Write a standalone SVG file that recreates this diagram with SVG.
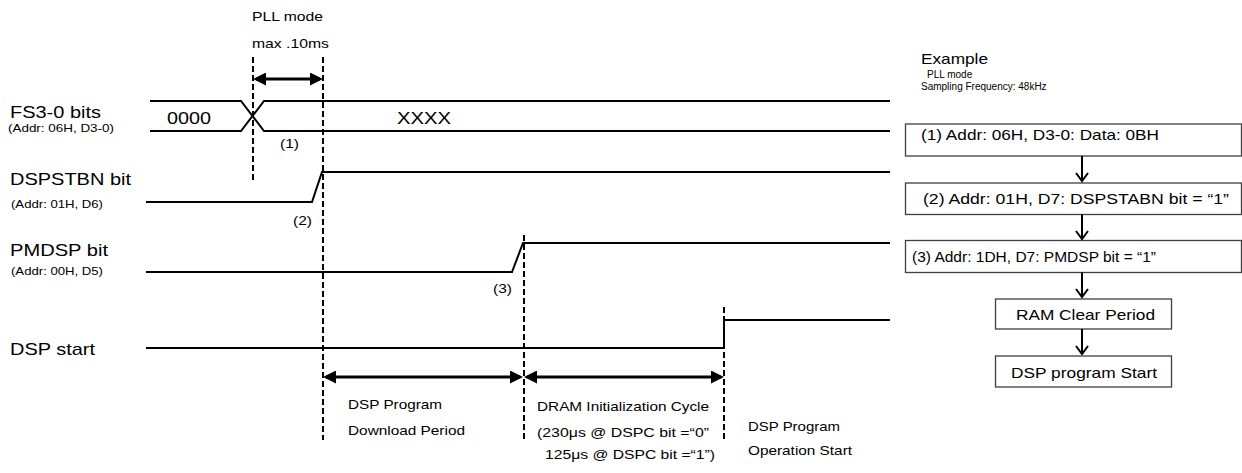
<svg xmlns="http://www.w3.org/2000/svg" width="1242" height="473" viewBox="0 0 1242 473">
<style>
text{font-family:"Liberation Sans",Arial,sans-serif;fill:#000}
.big{font-size:17px}
.small{font-size:11.5px}
.mid{font-size:13px}
.box{font-size:15px}
.tiny{font-size:10px}
.ex{font-size:15px}
.sig{fill:none;stroke:#000;stroke-width:2}
.dash{fill:none;stroke:#000;stroke-width:2;stroke-dasharray:6 3}
.dim{fill:none;stroke:#000;stroke-width:3;marker-start:url(#ah);marker-end:url(#ah)}
.nbox{fill:#fff;stroke:#404040;stroke-width:1.3}
.flow{fill:none;stroke:#000;stroke-width:2;marker-end:url(#chev)}
</style>
<defs>
<marker id="ah" viewBox="0 0 13 13" refX="10" refY="6.5" markerWidth="13" markerHeight="13" markerUnits="userSpaceOnUse" orient="auto-start-reverse">
<path d="M0,0 L13,6.5 L0,13 z" fill="#000"/>
</marker>
<marker id="chev" viewBox="0 0 12 14" refX="9" refY="7" markerWidth="12" markerHeight="14" markerUnits="userSpaceOnUse" orient="auto" overflow="visible">
<path d="M1,1 L9,7 L1,13" fill="none" stroke="#000" stroke-width="2"/>
</marker>
</defs>

<g id="labels">
<text class="big" x="10" y="118" textLength="91" lengthAdjust="spacingAndGlyphs">FS3-0 bits</text>
<text class="small" x="8" y="132" textLength="106" lengthAdjust="spacingAndGlyphs">(Addr: 06H, D3-0)</text>
<text class="big" x="10" y="185" textLength="121" lengthAdjust="spacingAndGlyphs">DSPSTBN bit</text>
<text class="small" x="11" y="208" textLength="92" lengthAdjust="spacingAndGlyphs">(Addr: 01H, D6)</text>
<text class="big" x="10" y="256" textLength="98" lengthAdjust="spacingAndGlyphs">PMDSP bit</text>
<text class="small" x="11" y="275" textLength="92" lengthAdjust="spacingAndGlyphs">(Addr: 00H, D5)</text>
<text class="big" x="10" y="355" textLength="85" lengthAdjust="spacingAndGlyphs">DSP start</text>
</g>

<g id="waveforms">
<path class="sig" d="M150,101 H241 L264,131 H890"/>
<path class="sig" d="M150,131 H241 L264,101 H890"/>
<text class="big" x="167" y="124" textLength="44" lengthAdjust="spacingAndGlyphs">0000</text>
<text class="big" x="397" y="124" textLength="54" lengthAdjust="spacingAndGlyphs">XXXX</text>
<path class="sig" d="M146,202 H312 L322,172 H890"/>
<path class="sig" d="M146,272 H512 L523,243 H890"/>
<path class="sig" d="M146,348 H724 V320 H890"/>
<text class="mid" x="280" y="148" textLength="19" lengthAdjust="spacingAndGlyphs">(1)</text>
<text class="mid" x="293" y="225" textLength="19" lengthAdjust="spacingAndGlyphs">(2)</text>
<text class="mid" x="493" y="293" textLength="19" lengthAdjust="spacingAndGlyphs">(3)</text>
</g>

<g id="timing-markers">
<line class="dash" x1="253" y1="57" x2="253" y2="182"/>
<line class="dash" x1="323" y1="57" x2="323" y2="440"/>
<line class="dash" x1="524" y1="235" x2="524" y2="440"/>
<line class="dash" x1="724" y1="307" x2="724" y2="440"/>
</g>

<g id="pll-period">
<text class="mid" x="252" y="21" textLength="71" lengthAdjust="spacingAndGlyphs">PLL mode</text>
<text class="mid" x="252" y="48" textLength="77" lengthAdjust="spacingAndGlyphs">max .10ms</text>
<line class="dim" x1="256" y1="79" x2="320" y2="79"/>
</g>

<g id="download-period">
<line class="dim" x1="326" y1="377" x2="520" y2="377"/>
<text class="mid" x="348" y="409" textLength="94" lengthAdjust="spacingAndGlyphs">DSP Program</text>
<text class="mid" x="348" y="435" textLength="117" lengthAdjust="spacingAndGlyphs">Download Period</text>
</g>

<g id="dram-init">
<line class="dim" x1="527" y1="377" x2="721" y2="377"/>
<text class="mid" x="537" y="411" textLength="172" lengthAdjust="spacingAndGlyphs">DRAM Initialization Cycle</text>
<text class="mid" x="537" y="437" textLength="172" lengthAdjust="spacingAndGlyphs">(230μs @ DSPC bit =“0”</text>
<text class="mid" x="545" y="459" textLength="170" lengthAdjust="spacingAndGlyphs">125μs @ DSPC bit =“1”)</text>
</g>

<g id="operation-start">
<text class="mid" x="748" y="431" textLength="92" lengthAdjust="spacingAndGlyphs">DSP Program</text>
<text class="mid" x="748" y="455" textLength="104" lengthAdjust="spacingAndGlyphs">Operation Start</text>
</g>

<g id="example-header">
<text class="ex" x="921" y="64" textLength="67" lengthAdjust="spacingAndGlyphs">Example</text>
<text class="tiny" x="927" y="78">PLL mode</text>
<text class="tiny" x="921" y="90">Sampling Frequency: 48kHz</text>
</g>

<g id="step1">
<rect class="nbox" x="905.5" y="124" width="336" height="32"/>
<text class="box" x="921" y="140" textLength="238" lengthAdjust="spacingAndGlyphs">(1) Addr: 06H, D3-0: Data: 0BH</text>
</g>
<g id="step2">
<rect class="nbox" x="905.5" y="183" width="336" height="31.5"/>
<text class="box" x="923" y="204" textLength="306" lengthAdjust="spacingAndGlyphs">(2) Addr: 01H, D7: DSPSTABN bit = “1”</text>
</g>
<g id="step3">
<rect class="nbox" x="905.5" y="240.5" width="336" height="32"/>
<text class="box" x="912" y="262" textLength="244" lengthAdjust="spacingAndGlyphs">(3) Addr: 1DH, D7: PMDSP bit = “1”</text>
</g>
<g id="ram-clear">
<rect class="nbox" x="995.5" y="299" width="176" height="30"/>
<text class="box" x="1016" y="320" textLength="139" lengthAdjust="spacingAndGlyphs">RAM Clear Period</text>
</g>
<g id="dsp-start">
<rect class="nbox" x="995.5" y="356" width="176" height="31"/>
<text class="box" x="1011" y="378" textLength="146" lengthAdjust="spacingAndGlyphs">DSP program Start</text>
</g>

<g id="connectors">
<line class="flow" x1="1082" y1="156" x2="1082" y2="181"/>
<line class="flow" x1="1082" y1="214.5" x2="1082" y2="239"/>
<line class="flow" x1="1082" y1="272.5" x2="1082" y2="297"/>
<line class="flow" x1="1082" y1="329" x2="1082" y2="354"/>
</g>
</svg>
